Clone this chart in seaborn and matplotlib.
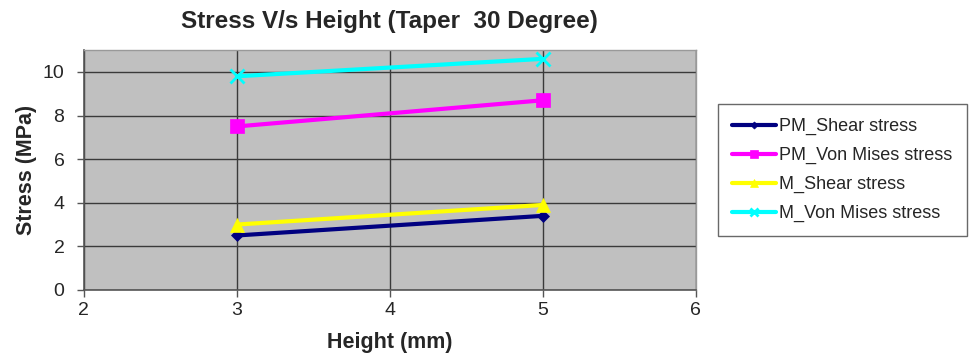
import matplotlib
matplotlib.use("Agg")
import matplotlib.pyplot as plt
import seaborn as sns
import pandas as pd

heights = [3, 5]
series_names = ["PM_Shear stress", "PM_Von Mises stress", "M_Shear stress", "M_Von Mises stress"]
pm_shear = [2.5, 3.4]
pm_von_mises = [7.5, 8.7]
m_shear = [3.0, 3.9]
m_von_mises = [9.8, 10.6]
x_ticks = [2, 3, 4, 5, 6]
y_ticks = [0, 2, 4, 6, 8, 10]

values = [pm_shear, pm_von_mises, m_shear, m_von_mises]
rows = []
for name, vals in zip(series_names, values):
    for h, v in zip(heights, vals):
        rows.append({"Height": h, "Stress": v, "Series": name})
df = pd.DataFrame(rows)

sns.set_style("white")
plt.rcParams["font.family"] = ["Liberation Sans", "DejaVu Sans"]

colors = {"PM_Shear stress": "#000080", "PM_Von Mises stress": "#ff00ff",
          "M_Shear stress": "#ffff00", "M_Von Mises stress": "#00ffff"}
markers = {"PM_Shear stress": "D", "PM_Von Mises stress": "s",
           "M_Shear stress": "^", "M_Von Mises stress": "x"}
sizes = {"PM_Shear stress": 6, "PM_Von Mises stress": 10,
         "M_Shear stress": 10, "M_Von Mises stress": 10}

fig = plt.figure(figsize=(9.76, 3.58), dpi=100)
ax = fig.add_axes([0.086, 0.19, 0.627, 0.67])
ax.set_facecolor("#c0c0c0")

for name in series_names:
    sub = df[df["Series"] == name]
    sns.lineplot(data=sub, x="Height", y="Stress", ax=ax, color=colors[name],
                 marker=markers[name], markersize=sizes[name], linewidth=3,
                 markeredgecolor=colors[name], markeredgewidth=2 if markers[name] == "x" else 0.5,
                 label=name, zorder=3)

ax.set_xlim(2, 6)
ax.set_ylim(0, 11)
ax.set_xticks(x_ticks)
ax.set_yticks(y_ticks)
ax.grid(True, color="#3a3a3a", linewidth=1)
ax.set_axisbelow(True)
ax.tick_params(axis="both", labelsize=14, length=5, width=1, color="#555555",
               direction="out", bottom=True, left=True)
ax.tick_params(axis="x", pad=4)
ax.tick_params(axis="y", pad=9)
for s in ["left", "bottom"]:
    ax.spines[s].set_color("#555555")
    ax.spines[s].set_linewidth(1.2)
for s in ["top", "right"]:
    ax.spines[s].set_color("#999999")
    ax.spines[s].set_linewidth(1)

ax.set_xlabel("Height (mm)", fontsize=15.5, fontweight="bold", labelpad=9)
ax.set_ylabel("Stress (MPa)", fontsize=15.5, fontweight="bold", labelpad=4)
ax.set_title("Stress V/s Height (Taper  30 Degree)", fontsize=17.5, fontweight="bold", pad=16)

leg = ax.legend(loc="center left", bbox_to_anchor=(1.021, 0.5), fontsize=13,
                frameon=True, fancybox=False, edgecolor="#444444",
                handlelength=2.4, handletextpad=0.2, borderpad=0.8, labelspacing=0.65,
                markerscale=0.6)
leg.get_frame().set_linewidth(1)

fig.savefig("out.png", dpi=100, facecolor="white")
